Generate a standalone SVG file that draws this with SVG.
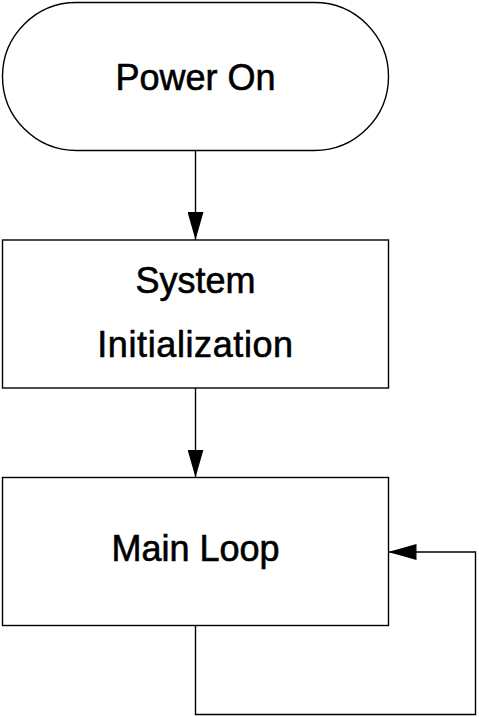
<svg xmlns="http://www.w3.org/2000/svg" width="479" height="717" viewBox="0 0 479 717">
<style>
.shape{fill:#ffffff;stroke:#000000;stroke-width:1.4}
.edge{fill:none;stroke:#000000;stroke-width:1.4}
.label{font-family:"Liberation Sans",Arial,sans-serif;font-size:36px;fill:#000000;stroke:#000000;stroke-width:0.6;text-anchor:middle}
</style>
<defs>
<marker id="arrow" markerUnits="userSpaceOnUse" markerWidth="28" markerHeight="16" refX="28" refY="8" orient="auto">
<path d="M0,0 L28,8 L0,16 z" fill="#000000"/>
</marker>
</defs>
<rect width="479" height="717" fill="#ffffff"/>
<g id="node-power-on">
<rect class="shape" x="2.5" y="2.5" width="386" height="148" rx="74" ry="74"/>
<text class="label" x="195.5" y="90">Power On</text>
</g>
<g id="node-system-init">
<rect class="shape" x="2.5" y="240" width="386" height="148"/>
<text class="label" x="195.5" y="293">System</text>
<text class="label" x="195.5" y="357" letter-spacing="0.6">Initialization</text>
</g>
<g id="node-main-loop">
<rect class="shape" x="2.5" y="477.5" width="386" height="148"/>
<text class="label" x="195.5" y="561">Main Loop</text>
</g>
<g id="connectors">
<path class="edge" d="M195.5,150.5 L195.5,240" marker-end="url(#arrow)"/>
<path class="edge" d="M195.5,388 L195.5,477.5" marker-end="url(#arrow)"/>
<path class="edge" d="M195.5,625.5 L195.5,714.5 L475.5,714.5 L475.5,552 L388.5,552" marker-end="url(#arrow)"/>
</g>
</svg>
